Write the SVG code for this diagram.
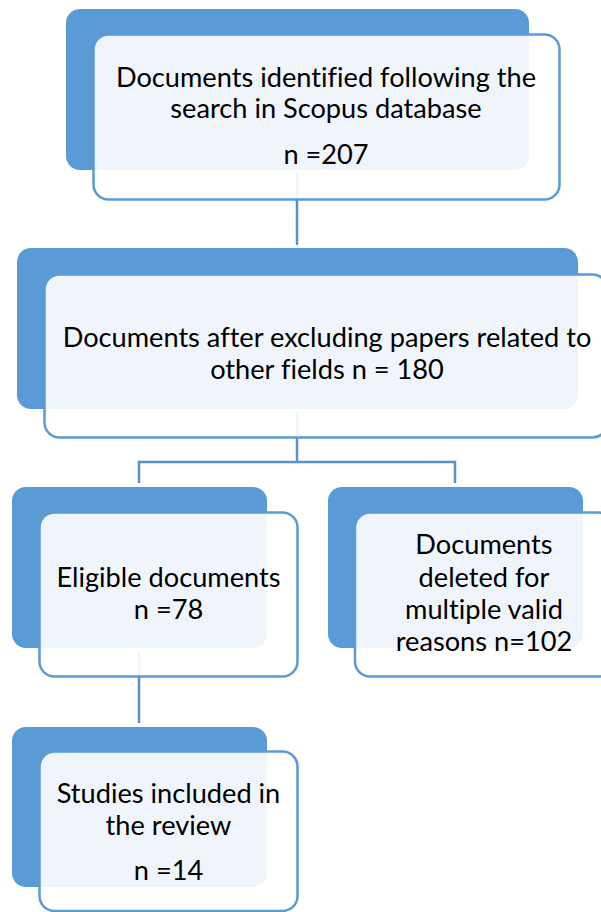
<svg xmlns="http://www.w3.org/2000/svg" width="601" height="912" viewBox="0 0 601 912">
<style>
.bg{fill:#5B9BD5}
.fg{fill:#ffffff;fill-opacity:0.9;stroke:#5B9BD5;stroke-width:2.5}
.t{font-family:Lato,'Liberation Sans',sans-serif;font-size:27.2px;fill:#000000;text-anchor:middle;font-variant-ligatures:none}
.c{fill:none;stroke:#5A8FCB;stroke-width:2.5}
</style>
<rect width="601" height="912" fill="#ffffff"/>
<g id="connectors">
<path class="c" d="M297,173 V245"/>
<path class="c" d="M297,412 V462"/>
<path class="c" d="M139,483 V462 H455 V483"/>
<path class="c" d="M139,651 V723"/>
</g>
<g id="n1">
<rect class="bg" x="66" y="9" width="463" height="161" rx="14"/>
<rect class="fg" x="93.5" y="34.5" width="466" height="165" rx="15"/>
<text class="t" x="326" y="87">Documents identified following the</text>
<text class="t" x="326" y="118">search in Scopus database</text>
<text class="t" x="326" y="164">n =207</text>
</g>
<g id="n2">
<rect class="bg" x="17" y="248" width="561" height="161" rx="14"/>
<rect class="fg" x="44.5" y="274.5" width="563" height="163" rx="15"/>
<text class="t" x="327" y="347">Documents after excluding papers related to</text>
<text class="t" x="327" y="379">other fields n = 180</text>
</g>
<g id="n3">
<rect class="bg" x="12" y="487" width="255" height="161" rx="14"/>
<rect class="fg" x="39.5" y="512.5" width="258" height="164" rx="15"/>
<text class="t" x="168.5" y="587">Eligible documents</text>
<text class="t" x="168.5" y="619">n =78</text>
</g>
<g id="n4">
<rect class="bg" x="328" y="487" width="255" height="161" rx="14"/>
<rect class="fg" x="355" y="512.5" width="258" height="164" rx="15"/>
<text class="t" x="484" y="554">Documents</text>
<text class="t" x="484" y="587">deleted for</text>
<text class="t" x="484" y="619">multiple valid</text>
<text class="t" x="484" y="651">reasons n=102</text>
</g>
<g id="n5">
<rect class="bg" x="12" y="727" width="255" height="160" rx="14"/>
<rect class="fg" x="39.5" y="751.5" width="258" height="159.5" rx="15"/>
<text class="t" x="168.5" y="803">Studies included in</text>
<text class="t" x="168.5" y="835">the review</text>
<text class="t" x="168.5" y="880">n =14</text>
</g>
</svg>
